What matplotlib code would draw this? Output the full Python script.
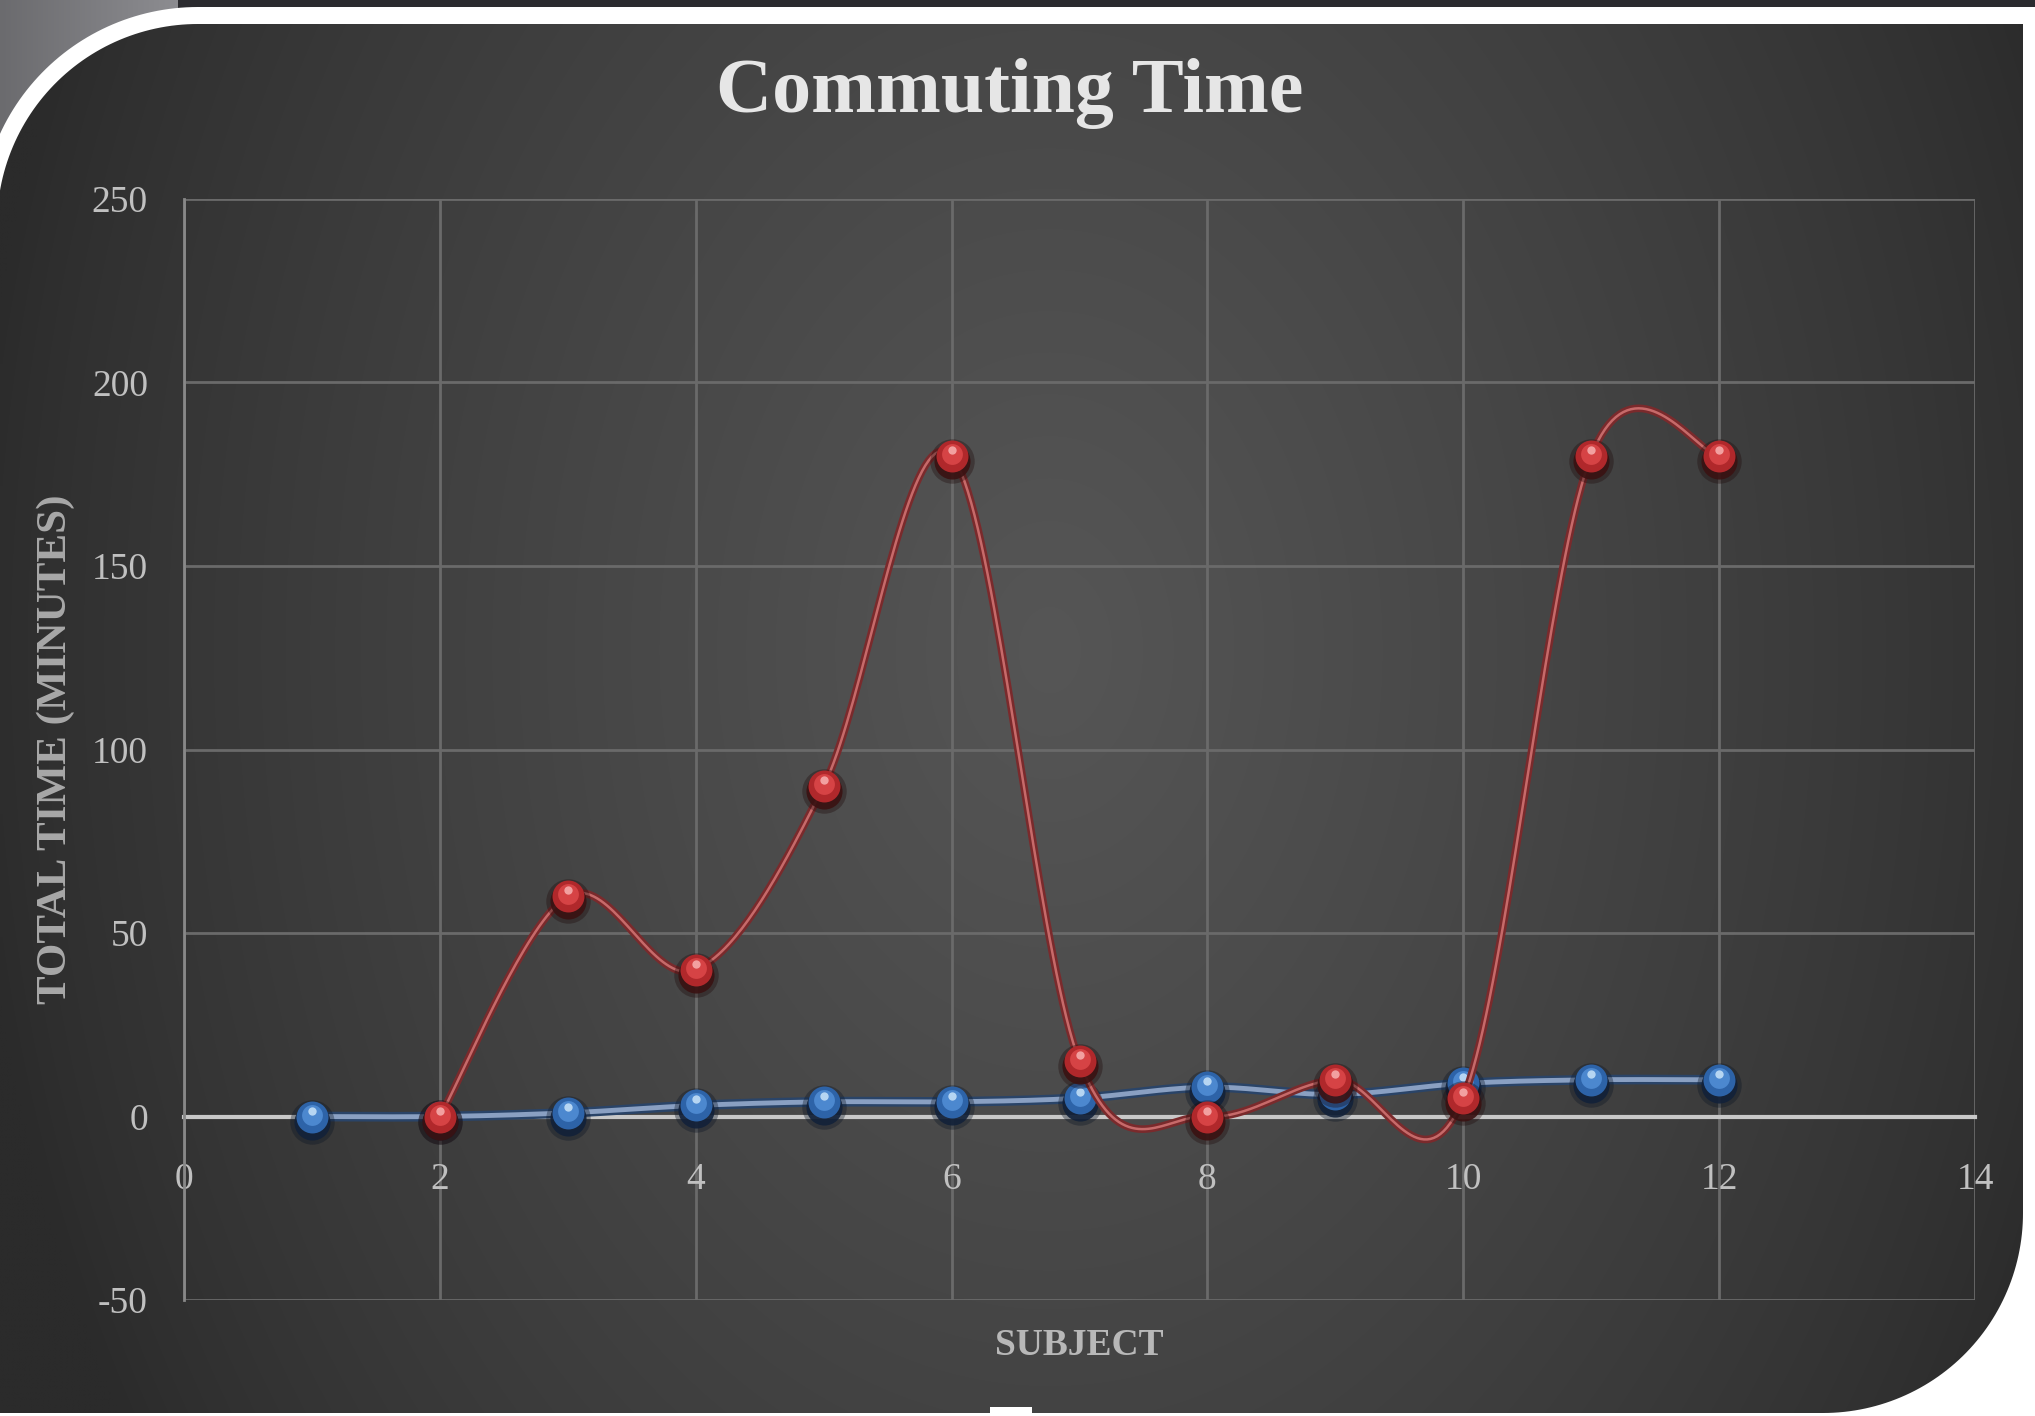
import numpy as np
import matplotlib
matplotlib.use("Agg")
import matplotlib.pyplot as plt
from matplotlib.patches import Polygon, Rectangle
from matplotlib.transforms import offset_copy

# ---- data -------------------------------------------------------------
subjects_a = [1, 2, 3, 4, 5, 6, 7, 8, 9, 10, 11, 12]
times_a = [0, 0, 1, 3, 4, 4, 5, 8, 6, 9, 10, 10]

subjects_b = [2, 3, 4, 5, 6, 7, 8, 9, 10, 11, 12]
times_b = [0, 60, 40, 90, 180, 15, 0, 10, 5, 180, 180]

x_ticks = [0, 2, 4, 6, 8, 10, 12, 14]
x_tick_labels = ["0", "2", "4", "6", "8", "10", "12", "14"]
y_ticks = [-50, 0, 50, 100, 150, 200, 250]
y_tick_labels = ["-50", "0", "50", "100", "150", "200", "250"]

title_text = "Commuting Time"
x_label_text = "SUBJECT"
y_label_text = "TOTAL TIME (MINUTES)"


def smooth_curve(xs, ys, steps=40):
    """Catmull-Rom style Bezier smoothing through every point."""
    pts = np.column_stack([xs, ys]).astype(float)
    n = len(pts)
    out = []
    t = np.linspace(0, 1, steps)[:, None]
    for i in range(n - 1):
        p0 = pts[i - 1] if i > 0 else pts[i]
        p1 = pts[i]
        p2 = pts[i + 1]
        p3 = pts[i + 2] if i + 2 < n else pts[i + 1]
        c1 = p1 + (p2 - p0) / 6.0
        c2 = p2 - (p3 - p1) / 6.0
        seg = ((1 - t) ** 3) * p1 + 3 * ((1 - t) ** 2) * t * c1 \
            + 3 * (1 - t) * t ** 2 * c2 + t ** 3 * p2
        out.append(seg if i == 0 else seg[1:])
    seg = np.vstack(out)
    return seg[:, 0], seg[:, 1]


W, H = 2035, 1416
fig = plt.figure(figsize=(W / 100, H / 100), dpi=100, facecolor="#2b2b2f")

# ---- slide frame -------------------------------------------------------
frame = fig.add_axes([0, 0, 1, 1], zorder=0)
frame.set_axis_off()

gray_grad = np.linspace(0.42, 0.55, 64)[None, :] * np.ones((64, 1))
frame.imshow(np.dstack([gray_grad, gray_grad, gray_grad * 1.03]),
             extent=[0, 178, 320, 0], interpolation="bilinear",
             aspect="auto", zorder=1)

def arc_pts(cx, cy, r, a0, a1, n=60):
    a = np.radians(np.linspace(a0, a1, n))
    return np.column_stack([cx + r * np.cos(a), cy + r * np.sin(a)])


outer = np.vstack([
    [[-40, 1460]],
    arc_pts(198, 225, 218, 180, 270),
    [[2100, 7], [2100, 1460]],
])
frame.add_patch(Polygon(outer, closed=True, facecolor="white",
                        edgecolor="none", zorder=2))

inner = np.vstack([
    [[-3, 1413]],
    arc_pts(198, 225, 201, 180, 270),
    [[2023, 24]],
    arc_pts(1823, 1213, 200, 0, 90),
])
clip_poly = Polygon(inner, closed=True, facecolor="none", edgecolor="none",
                    zorder=3)
frame.add_patch(clip_poly)

gx = np.linspace(0, W, 408)
gy = np.linspace(0, H, 284)
GX, GY = np.meshgrid(gx, gy)
rad = np.sqrt(((GX - 1050) / 1080) ** 2 + ((GY - 650) / 1500) ** 2)
shade = np.clip(1 - rad, 0, 1) ** 0.8
val = (43 + 43 * shade) / 255.0
bg = np.dstack([val, val, val])
im = frame.imshow(bg, extent=[0, W, H, 0], interpolation="bilinear",
                  aspect="auto", zorder=3)
im.set_clip_path(clip_poly)

frame.add_patch(Rectangle((990, 1407), 42, 12, facecolor="white",
                          edgecolor="none", zorder=4))
frame.set_xlim(0, W)
frame.set_ylim(H, 0)

# ---- chart -------------------------------------------------------------
left, right, top, bottom = 184, 1975, 199, 1300
ax = fig.add_axes([left / W, 1 - bottom / H, (right - left) / W,
                   (bottom - top) / H], zorder=2)
ax.set_facecolor("none")
ax.set_xlim(0, 14)
ax.set_ylim(-50, 250)
ax.set_axisbelow(True)

ax.set_xticks(x_ticks)
ax.set_xticklabels(x_tick_labels)
ax.set_yticks(y_ticks)
ax.set_yticklabels(y_tick_labels)
ax.grid(True, color="#6a6a6a", linewidth=2)

for side in ("top", "right"):
    ax.spines[side].set_visible(False)
ax.spines["left"].set_color("#888888")
ax.spines["left"].set_linewidth(2)
ax.spines["bottom"].set_position(("data", 0))
ax.spines["bottom"].set_color("#c8c8c8")
ax.spines["bottom"].set_linewidth(3)
ax.spines["bottom"].set_zorder(1.5)

ax.tick_params(axis="both", length=0, labelcolor="#c0c0c0")
ax.tick_params(axis="x", pad=33)
ax.tick_params(axis="y", pad=26)
for lab in ax.get_xticklabels() + ax.get_yticklabels():
    lab.set_fontfamily("Liberation Serif")
    lab.set_fontsize(27)

ax.set_xlabel(x_label_text, family="Liberation Serif", fontweight="bold",
              fontsize=27, color="#b8b8b8", va="baseline")
ax.xaxis.set_label_coords(0.4997, -0.05)
ax.set_ylabel(y_label_text, family="Liberation Serif", fontweight="bold",
              fontsize=31, color="#a8a8a8", va="center")
ax.yaxis.set_label_coords(-0.0715, 0.5)

fig.text(1010 / W, 1 - 112 / H, title_text, family="Liberation Serif",
         fontweight="bold", fontsize=56, color="#e6e6e6",
         ha="center", va="baseline")


def sphere_markers(xs, ys, halo, shadow, body, mid, light, z):
    layers = ((-5, halo, 32, 0.35), (-5, shadow, 26, 0.9),
              (0, body, 23, 1.0), (2, mid, 15, 1.0), (6, light, 6, 0.95))
    for dy, col, ms, alpha in layers:
        tr = offset_copy(ax.transData, fig=fig, x=0, y=dy, units="dots")
        ax.plot(xs, ys, linestyle="none", marker="o", markersize=ms,
                markerfacecolor=col, markeredgewidth=0, alpha=alpha,
                transform=tr, zorder=z)


# smoothed lines with glossy sphere markers
sx_a, sy_a = smooth_curve(subjects_a, times_a)
ax.plot(sx_a, sy_a, color="#2a4468", linewidth=7, solid_capstyle="round",
        zorder=3)
ax.plot(sx_a, sy_a, color="#8aa0c2", linewidth=3.5, solid_capstyle="round",
        zorder=3.1)
sphere_markers(subjects_a, times_a, "#0a1424", "#122139", "#2d63a8",
               "#4c88cf", "#bcdaf5", 4)

sx_b, sy_b = smooth_curve(subjects_b, times_b)
ax.plot(sx_b, sy_b, color="#7a2a2c", linewidth=5.5, solid_capstyle="round",
        zorder=5)
ax.plot(sx_b, sy_b, color="#c66a6a", linewidth=1.8, solid_capstyle="round",
        zorder=5.1)
sphere_markers(subjects_b, times_b, "#1e0909", "#3a1212", "#b0282b",
               "#d64345", "#f4a6a6", 6)

fig.savefig("out.png", dpi=100, facecolor=fig.get_facecolor())
